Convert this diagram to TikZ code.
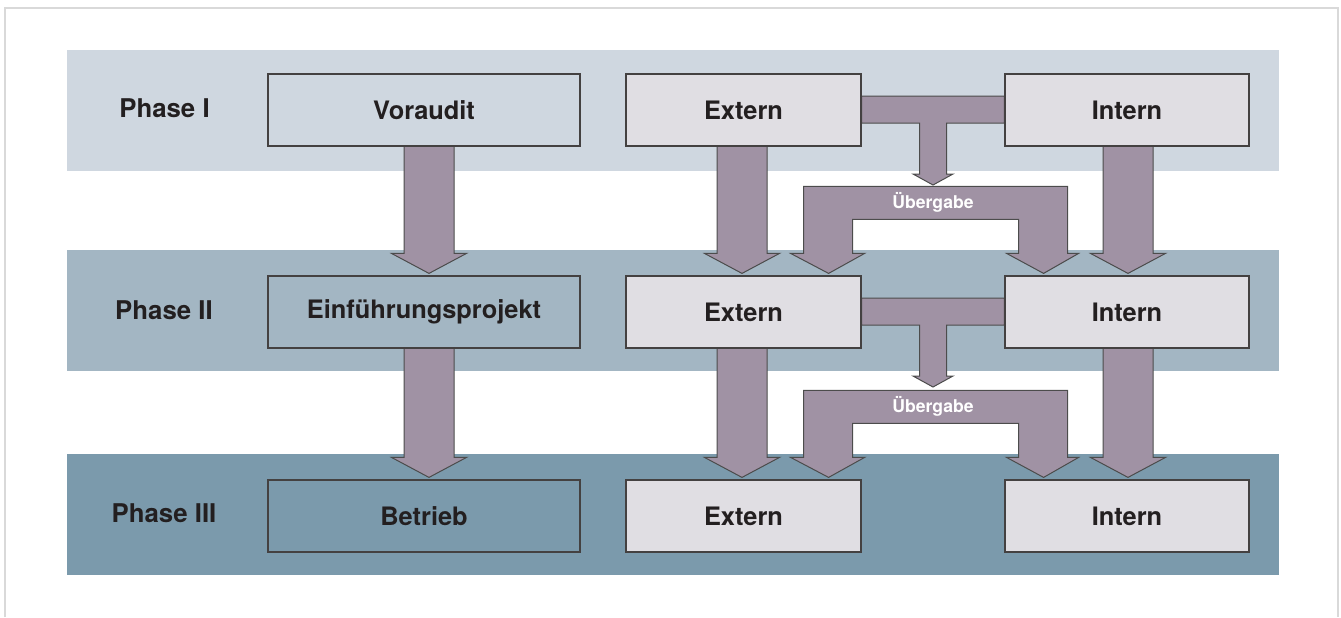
\documentclass[tikz,border=0pt]{standalone}
\usepackage{fontspec}
\setmainfont{TeX Gyre Heros}
\usepackage{xcolor}
\usepackage{tikz}
\usetikzlibrary{positioning,calc}
\definecolor{bandone}{RGB}{207,215,224}
\definecolor{bandtwo}{RGB}{163,182,195}
\definecolor{bandthree}{RGB}{123,154,172}
\definecolor{flowfill}{RGB}{160,146,164}
\definecolor{boxfill}{RGB}{224,222,227}
\definecolor{inkc}{RGB}{35,31,32}
\definecolor{framec}{RGB}{217,217,217}
\tikzset{
  stage/.style={draw=inkc!85, line width=0.6pt, minimum height=36pt, inner sep=0pt,
                font=\fontsize{12.7}{15}\selectfont\bfseries, text=inkc},
  phasebox/.style={stage, minimum width=156pt},
  extbox/.style={stage, fill=boxfill, minimum width=117.5pt},
  intbox/.style={stage, fill=boxfill, minimum width=122pt},
  phaselbl/.style={font=\fontsize{12.9}{15}\selectfont\bfseries, text=inkc},
  flow/.style={fill=flowfill, draw=black!70, line width=0.5pt, line join=miter},
  flowlbl/.style={font=\fontsize{8.8}{10}\selectfont\bfseries, text=white},
  frame/.style={draw=framec, line width=1pt}
}
\pgfdeclarelayer{bands}
\pgfdeclarelayer{flows}
\pgfsetlayers{bands,flows,main}
% block arrow straight down: from, to, x shift
\newcommand{\blockdown}[3]{%
  \draw[flow] ($(#1.south)+(#3-25,0)$) -- ($(#2.north)+(#3-25,-22)$) -- ++(-12.5,0)
    -- ($(#2.north)+(#3,-2)$) -- ($(#2.north)+(#3+37.5,-22)$) -- ++(-12.5,0)
    -- ($(#1.south)+(#3+25,0)$);}
% T from extern/intern, then the Uebergabe fork down to the next row
\newcommand{\handover}[5]{%
  \coordinate (#5m) at ($(#1.east)!0.5!(#2.west)$);
  \draw[flow] ($(#1.east)+(0,-14)$) -- ($(#2.west)+(0,-14)$) -- ++(0,27)
    -- ($(#5m)+(13.5,13)$) -- ++(0,51) -- ++(6.5,0) -- ++(-20,11) -- ++(-20,-11)
    -- ++(6.5,0) -- ++(0,-51) -- ($(#1.east)+(0,13)$) -- cycle;
  \draw[flow] ($(#3.north east)+(-33,-2)$) -- ++(-38,-20) -- ++(13,0) -- ++(0,-67)
    -- ++(264,0) -- ++(0,67) -- ++(11,0) -- ++(-35,20) -- ++(-37,-20) -- ++(12,0)
    -- ++(0,-34) -- ++(-166,0) -- ++(0,34) -- ++(12,0) -- cycle;}

\begin{document}
\begin{tikzpicture}[x=0.5pt, y=-0.5pt]
\useasboundingbox (0,0) rectangle (1341,617);
\begin{pgfonlayer}{bands}
\draw[frame] (5,617) -- (5,8) -- (1338,8) -- (1338,617);
\fill[bandone] (67,50) rectangle (1279,171);
\fill[bandtwo] (67,250) rectangle (1279,371);
\fill[bandthree] (67,454) rectangle (1279,575);
\end{pgfonlayer}

\node[phaselbl] (ph1) at (164.5,108) {Phase I};
\node[phaselbl] (ph2) at (164,310) {Phase II};
\node[phaselbl] (ph3) at (164,513) {Phase III};

\node[phasebox] (vor) at (424,110) {Voraudit};
\node[phasebox] (ein) at (424,312) {Einführungsprojekt};
\node[phasebox] (bet) at (424,516) {Betrieb};
\node[extbox] (ex1) at (743.5,110) {Extern};
\node[extbox] (ex2) at (743.5,312) {Extern};
\node[extbox] (ex3) at (743.5,516) {Extern};
\node[intbox] (in1) at (1127,110) {Intern};
\node[intbox] (in2) at (1127,312) {Intern};
\node[intbox] (in3) at (1127,516) {Intern};

\begin{pgfonlayer}{flows}
\blockdown{vor}{ein}{5}
\blockdown{ein}{bet}{5}
\blockdown{ex1}{ex2}{-1.5}
\blockdown{ex2}{ex3}{-1.5}
\blockdown{in1}{in2}{1}
\blockdown{in2}{in3}{1}
\handover{ex1}{in1}{ex2}{in2}{h1}
\handover{ex2}{in2}{ex3}{in3}{h2}
\end{pgfonlayer}

\node[flowlbl] (ueb1) at ($(ex2.north east)!0.5!(in2.north west)+(0,-73)$) {Übergabe};
\node[flowlbl] (ueb2) at ($(ex3.north east)!0.5!(in3.north west)+(0,-73)$) {Übergabe};
\end{tikzpicture}
\end{document}
